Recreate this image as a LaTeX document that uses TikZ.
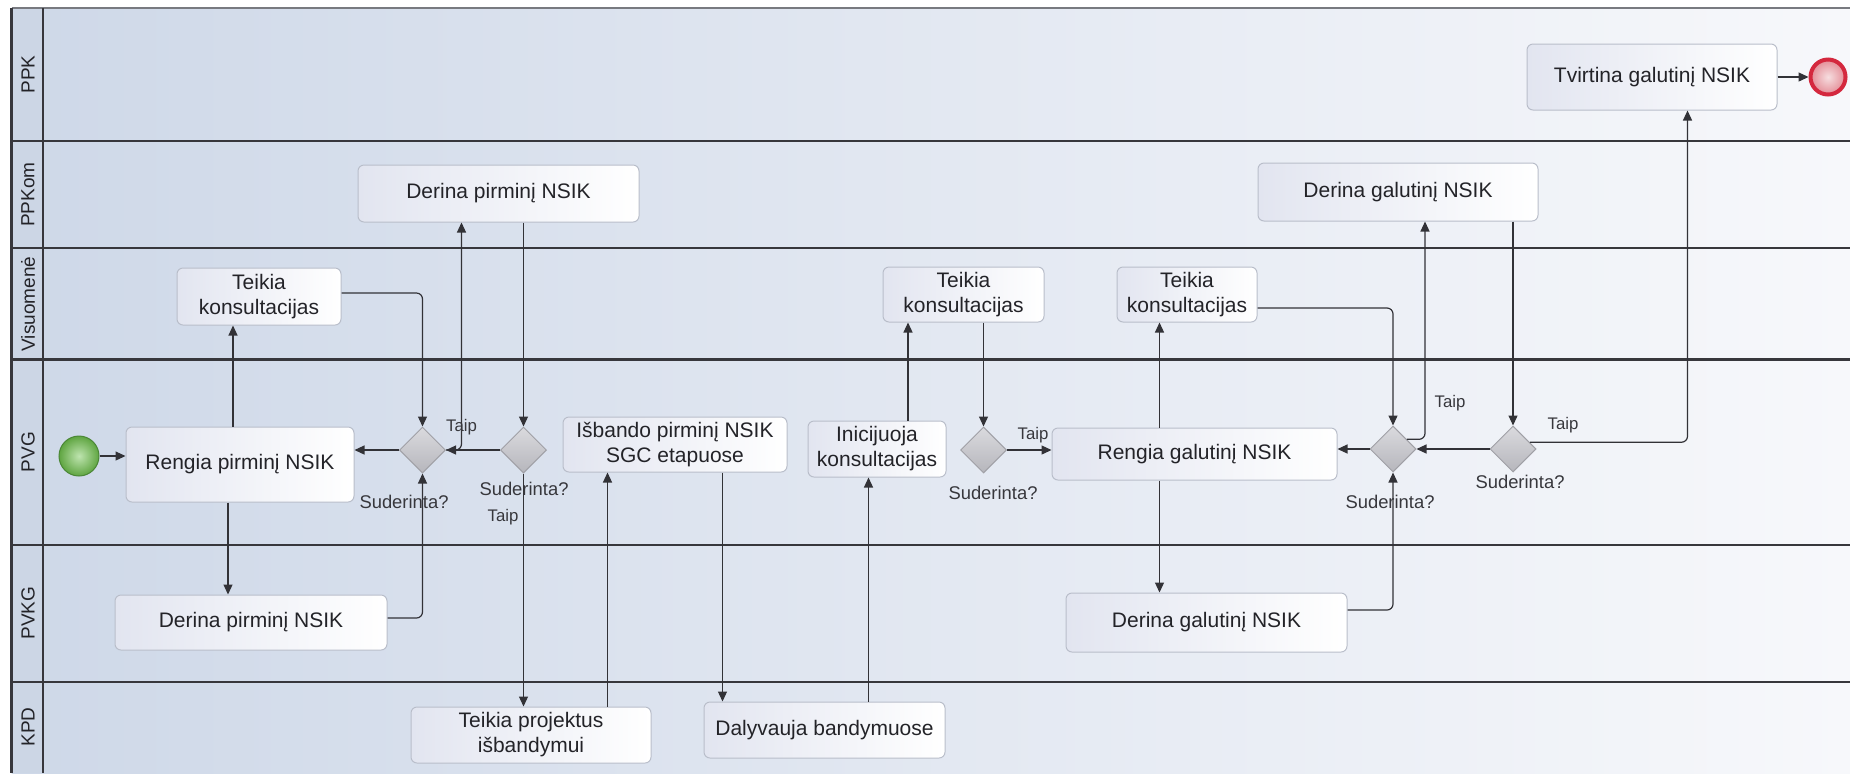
\documentclass[tikz,border=0pt]{standalone}
\usepackage{fontspec}
\setmainfont{Liberation Sans}
\usetikzlibrary{arrows.meta,shapes.geometric,calc}
\definecolor{laneL}{RGB}{206,216,232}
\definecolor{laneR}{RGB}{247,248,251}
\definecolor{lblcol}{RGB}{204,214,229}
\definecolor{laneline}{RGB}{55,55,60}
\definecolor{topline}{RGB}{120,122,128}
\definecolor{boxborder}{RGB}{185,190,202}
\definecolor{boxL}{RGB}{226,229,240}
\definecolor{conn}{RGB}{50,50,55}
\definecolor{txt}{RGB}{35,35,40}
\definecolor{lbltxt}{RGB}{55,55,60}
\definecolor{gwT}{RGB}{218,218,222}
\definecolor{gwB}{RGB}{182,182,188}
\definecolor{gwborder}{RGB}{160,160,166}
\definecolor{stIn}{RGB}{190,228,175}
\definecolor{stOut}{RGB}{95,165,65}
\definecolor{stBorder}{RGB}{75,135,55}
\definecolor{endRed}{RGB}{212,40,62}
\definecolor{endIn}{RGB}{246,222,224}
\definecolor{endOut}{RGB}{228,140,150}
\begin{document}
\begin{tikzpicture}[x=0.5pt,y=-0.5pt,
  task/.style 2 args={draw=boxborder, line width=0.5pt, rounded corners=3pt,
    left color=boxL, right color=white, minimum width=#1*0.5pt,
    minimum height=#2*0.5pt, align=center, inner sep=0pt, text=txt,
    font=\fontsize{10.5}{12.5}\selectfont},
  gw/.style={diamond, draw=gwborder, line width=0.5pt, top color=gwT,
    bottom color=gwB, minimum width=23pt, minimum height=23pt, inner sep=0pt},
  arr/.style={draw=conn, line width=0.6pt, rounded corners=3pt,
    -{Triangle[length=5pt,width=4.5pt]}},
  lbl/.style={font=\fontsize{9.2}{10}\selectfont, text=lbltxt, inner sep=0pt},
  taip/.style={font=\fontsize{8.4}{10}\selectfont, text=lbltxt, inner sep=0pt},
  lanelbl/.style={font=\fontsize{9.5}{10}\selectfont, text=txt, rotate=90, inner sep=0pt},
  laneln/.style={draw=laneline, line width=1.1pt}
]
\useasboundingbox (0,0) rectangle (1850,773);
% lanes
\shade[left color=laneL,right color=laneR] (11.5,8.3) rectangle (1850,773);
\fill[lblcol] (11.5,8.3) rectangle (43.3,773);
\draw[draw=topline, line width=1pt] (11.5,8.3) -- (1850,8.3);
\draw[laneln] (11.5,8.3) -- (11.5,773);
\draw[laneln] (43.3,8.3) -- (43.3,773);
\foreach \yy in {140.7,248.3,359.5,545,681.7}
  \draw[laneln] (11.5,\yy) -- (1850,\yy);
\node[lanelbl] (lPPK) at (28,74.5) {PPK};
\node[lanelbl] (lPPKom) at (28,194.5) {PPKom};
\node[lanelbl] (lVis) at (28,304) {Visuomenė};
\node[lanelbl] (lPVG) at (28,452) {PVG};
\node[lanelbl] (lPVKG) at (28,613) {PVKG};
\node[lanelbl] (lKPD) at (28,727) {KPD};

% events
\node[circle, minimum size=20pt, inner sep=0pt, draw=stBorder, line width=0.5pt,
  inner color=stIn, outer color=stOut] (S) at (79,456) {};
\node[circle, minimum size=17.5pt, inner sep=0pt, draw=endRed, line width=2pt,
  inner color=endIn, outer color=endOut] (E) at (1828,77) {};

% tasks
\node[task={228}{75}] (R1) at (240,464.5) {Rengia pirminį NSIK};
\node[task={164}{57}] (T1) at (259,296.5) {Teikia\\konsultacijas};
\node[task={272}{55}] (D1) at (251,622.5) {Derina pirminį NSIK};
\node[task={281}{57}] (D2) at (498.5,193.5) {Derina pirminį NSIK};
\node[task={224}{55}] (I1) at (675,444.5) {Išbando pirminį NSIK\\SGC etapuose};
\node[task={240}{56}] (TP) at (531,735) {Teikia projektus\\išbandymui};
\node[task={241}{56}] (DB) at (824.5,730) {Dalyvauja bandymuose};
\node[task={138}{56}] (IK) at (877,449) {Inicijuoja\\konsultacijas};
\node[task={161}{55}] (T2) at (963.5,294.5) {Teikia\\konsultacijas};
\node[task={285}{52}] (R2) at (1194.5,454) {Rengia galutinį NSIK};
\node[task={140}{55}] (T3) at (1187,294.5) {Teikia\\konsultacijas};
\node[task={281}{59}] (D3) at (1206.5,622.5) {Derina galutinį NSIK};
\node[task={280}{58}] (D4) at (1398,192) {Derina galutinį NSIK};
\node[task={250}{66}] (TV) at (1652,77) {Tvirtina galutinį NSIK};

% gateways
\node[gw] (G1) at (422.5,450) {};
\node[gw] (G2) at (523.5,450) {};
\node[gw] (G3) at (983.5,450) {};
\node[gw] (G4) at (1393,449) {};
\node[gw] (G5) at (1513,449) {};

% helper columns / rows
\coordinate (x233) at (233,0);
\coordinate (x228) at (228,0);
\coordinate (x461) at (461.5,0);
\coordinate (x607) at (607.5,0);
\coordinate (x722) at (722.5,0);
\coordinate (x868) at (868.5,0);
\coordinate (x908) at (908,0);
\coordinate (x1160) at (1159.5,0);
\coordinate (x1425) at (1425,0);
\coordinate (x1687) at (1687.5,0);
\coordinate (y293) at (0,293);
\coordinate (y308) at (0,308);
\coordinate (y618) at (0,618);
\coordinate (y610) at (0,610);

% connectors
\draw[arr] (S) -- (S -| R1.west);
\draw[arr] (R1.north -| x233) -- (T1.south -| x233);
\draw[arr] (T1.east |- y293) -| (G1.north);
\draw[arr] (R1.south -| x228) -- (D1.north -| x228);
\draw[arr] (D1.east |- y618) -| (G1.south);
\draw[arr] (G1.west) -- (G1.west -| R1.east);
\draw[arr] (G2.west) -- (G1.east);
\draw[arr] (G1.east) -| (D2.south -| x461);
\draw[arr] (D2.south -| G2) -- (G2.north);
\draw[arr] (G2.south) -- (G2.south |- TP.north);
\draw[arr] (TP.north -| x607) -- (I1.south -| x607);
\draw[arr] (I1.south -| x722) -- (DB.north -| x722);
\draw[arr] (DB.north -| x868) -- (IK.south -| x868);
\draw[arr] (IK.north -| x908) -- (T2.south -| x908);
\draw[arr] (T2.south -| G3) -- (G3.north);
\draw[arr] (G3.east) -- (G3.east -| R2.west);
\draw[arr] (R2.north -| x1160) -- (T3.south -| x1160);
\draw[arr] (R2.south -| x1160) -- (D3.north -| x1160);
\draw[arr] (T3.east |- y308) -| (G4.north);
\draw[arr] (D3.east |- y610) -| (G4.south);
\draw[arr] (G4.west) -- (G4.west -| R2.east);
\draw[arr] (G5.west) -- (G4.east);
\draw[arr] (G4.35) -| (D4.south -| x1425);
\draw[arr] (D4.south -| G5) -- (G5.north);
\draw[arr] (G5.22) -| (TV.south -| x1687);
\draw[arr] (TV.east) -- (E.west);

% labels
\node[lbl] (sG1) at (404,502) {Suderinta?};
\node[lbl] (sG2) at (524,489) {Suderinta?};
\node[lbl] (sG3) at (993,493) {Suderinta?};
\node[lbl] (sG4) at (1390,502) {Suderinta?};
\node[lbl] (sG5) at (1520,482) {Suderinta?};
\node[taip] (tG1) at (461.5,427) {Taip};
\node[taip] (tG2) at (503,517) {Taip};
\node[taip] (tG3) at (1033,435) {Taip};
\node[taip] (tG4) at (1450,403) {Taip};
\node[taip] (tG5) at (1563,425) {Taip};
\end{tikzpicture}
\end{document}
